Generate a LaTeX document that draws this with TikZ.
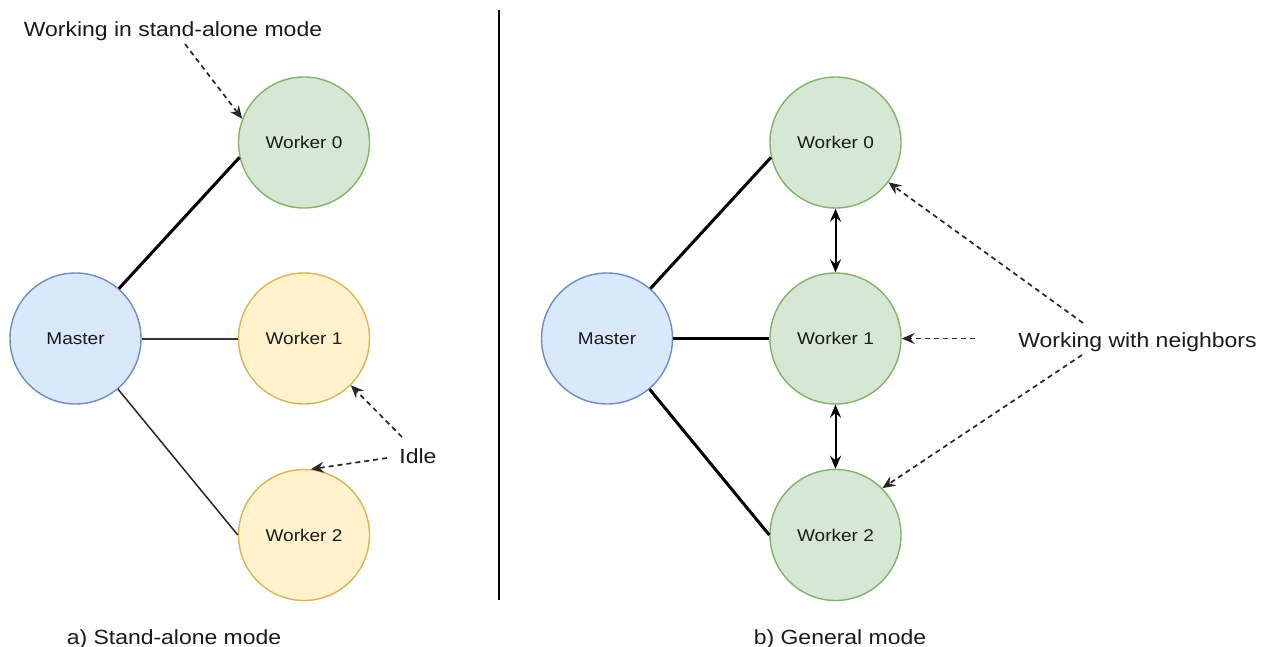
\documentclass[tikz,border=0pt]{standalone}
\usepackage{fontspec}
\setmainfont{Liberation Sans}[FakeStretch=1.12]
\usetikzlibrary{arrows.meta}

\definecolor{greenfill}{HTML}{D5E8D4}
\definecolor{greenline}{HTML}{82B366}
\definecolor{yellowfill}{HTML}{FFF2CC}
\definecolor{yellowline}{HTML}{D6B656}
\definecolor{bluefill}{HTML}{DAE8FC}
\definecolor{blueline}{HTML}{6C8EBF}
\definecolor{ink}{HTML}{1A1A1A}

\tikzset{
  unit/.style={circle, minimum size=131pt, inner sep=0pt, line width=1.4pt,
    text=ink, font=\fontsize{17}{20}\selectfont},
  masternode/.style={unit, draw=blueline, fill=bluefill},
  busynode/.style={unit, draw=greenline, fill=greenfill},
  idlenode/.style={unit, draw=yellowline, fill=yellowfill},
  note/.style={text=ink, font=\fontsize{20.5}{24}\selectfont, inner sep=0pt, anchor=base},
  caption/.style={text=ink, font=\fontsize{20.5}{24}\selectfont, inner sep=0pt, anchor=base},
  heavy/.style={line width=3pt, black},
  medium/.style={line width=2pt, black!80},
  light/.style={line width=1.5pt, black!85},
  tip/.style={Stealth[length=13pt, width=11pt, inset=4.5pt]},
  pointer/.style={line width=1.7pt, black!85, dash pattern=on 5pt off 4pt,
    -{Stealth[length=13pt, width=11pt, inset=4.5pt]}},
  link/.style={line width=2pt, black,
    {Stealth[length=13pt, width=11pt, inset=4.5pt]}-{Stealth[length=13pt, width=11pt, inset=4.5pt]}},
}

\begin{document}
\begin{tikzpicture}[x=1pt, y=-1pt]
  \path[use as bounding box] (0,0) rectangle (1275,647);

  % divider between the two panels
  \draw[line width=2.8pt, black] (499,10) -- (499,600);

  % ---- a) stand-alone mode ----
  \node[masternode] (mL) at (75.5,338.5) {Master};
  \node[busynode] (w0L) at (304,142.5) {Worker 0};
  \node[idlenode] (w1L) at (304,338.5) {Worker 1};
  \node[idlenode] (w2L) at (304,535) {Worker 2};

  \draw[heavy] (mL.49) -- (w0L.193);
  \draw[medium] (mL.east) -- (w1L.west);
  \draw[light] (mL.310) -- (w2L.180);

  \node[note] (standalone) at (173,37) {Working in stand-alone mode};
  \coordinate (standaloneTail) at (185,44);
  \draw[pointer] (standaloneTail) -- (w0L.159);

  \node[note] (idle) at (418,463) {Idle};
  \coordinate (idleTailA) at (402,437);
  \coordinate (idleTailB) at (387,458);
  \draw[pointer] (idleTailA) -- (w1L.315);
  \draw[pointer] (idleTailB) -- (w2L.84);

  \node[caption] (capA) at (174,644) {a) Stand-alone mode};

  % ---- b) general mode ----
  \node[masternode] (mR) at (607,338.5) {Master};
  \node[busynode] (w0R) at (835.5,142.5) {Worker 0};
  \node[busynode] (w1R) at (835.5,338.5) {Worker 1};
  \node[busynode] (w2R) at (835.5,535) {Worker 2};

  \draw[heavy] (mR.49) -- (w0R.193);
  \draw[heavy] (mR.east) -- (w1R.west);
  \draw[heavy] (mR.310) -- (w2R.180);

  \draw[link] (w0R.south) -- (w1R.north);
  \draw[link] (w1R.south) -- (w2R.north);

  \node[note] (neighbors) at (1137.5,347) {Working with neighbors};
  \coordinate (nbTailA) at (1083,323);
  \coordinate (nbTailB) at (975,338.5);
  \coordinate (nbTailC) at (1082,355);
  \draw[pointer] (nbTailA) -- (w0R.323);
  \draw[pointer] (nbTailB) -- (w1R.east);
  \draw[pointer] (nbTailC) -- (w2R.45);

  \node[caption] (capB) at (840,644) {b) General mode};
\end{tikzpicture}
\end{document}
